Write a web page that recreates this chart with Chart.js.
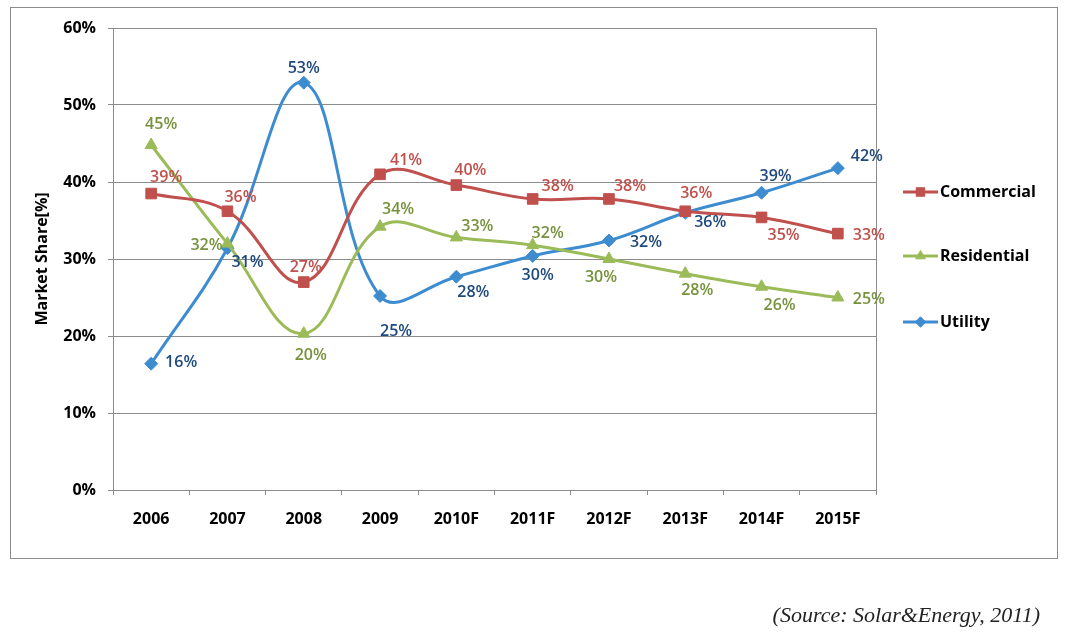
<!DOCTYPE html>
<html>
<head>
<meta charset="utf-8">
<script src="https://cdn.jsdelivr.net/npm/chart.js@4.4.0/dist/chart.umd.min.js"></script>
<style>
  html, body { margin: 0; padding: 0; background: #ffffff; }
  #wrap { position: relative; width: 1066px; height: 636px; overflow: hidden; background: #fff; }
  #frame { position: absolute; left: 10px; top: 7px; width: 1046px; height: 550px; border: 1px solid #8c8c8c; }
  #c { position: absolute; left: 0; top: 0; }
  #source { position: absolute; right: 26px; top: 602px; font-family: "Liberation Serif", "DejaVu Serif", serif; font-style: italic; font-size: 22px; color: #222; white-space: nowrap; }
</style>
</head>
<body>
<div id="wrap">
  <div id="frame"></div>
  <canvas id="c" width="1066" height="636"></canvas>
  <div id="source">(Source: Solar&amp;Energy, 2011)</div>
</div>
<script>
// ---- data ----
const categories = ['2006', '2007', '2008', '2009', '2010F', '2011F', '2012F', '2013F', '2014F', '2015F'];
const commercial = [38.5, 36.2, 27.0, 41.0, 39.6, 37.8, 37.8, 36.2, 35.4, 33.3];
const residential = [44.8, 32.0, 20.3, 34.2, 32.8, 31.8, 30.0, 28.1, 26.4, 25.0];
const utility = [16.4, 31.4, 52.9, 25.2, 27.7, 30.4, 32.4, 36.0, 38.6, 41.8];
const yTicks = [0, 10, 20, 30, 40, 50, 60];
const seriesNames = ['Commercial', 'Residential', 'Utility'];

// label offsets (dx, dy) relative to each point
const commercialLabelOff = [[15,-16],[13,-14],[2,-15],[26,-14],[14,-15],[25,-13],[21,-13],[11,-18],[22,18],[31,2]];
const residentialLabelOff = [[10,-21],[-21,2],[7,22],[18,-17],[21,-11],[15,-12],[-8,18],[12,17],[18,19],[31,2]];
const utilityLabelOff = [[30,-1],[20,14],[0,-14],[16,35],[17,16],[5,20],[37,2],[25,10],[14,-16],[29,-12]];

const FONT = '"Open Sans", Lato, "DejaVu Sans", sans-serif';
const colors = {
  commercial: '#C0504D', residential: '#9BBB59', utility: '#3E8CD0'
};
const labelColors = ['#C0504D', '#76923C', '#1F497D'];

const dataLabelPlugin = {
  id: 'dataLabels',
  afterDatasetsDraw(chart) {
    const ctx = chart.ctx;
    const offs = [commercialLabelOff, residentialLabelOff, utilityLabelOff];
    ctx.save();
    ctx.font = '600 16px ' + FONT;
    ctx.textAlign = 'center';
    ctx.textBaseline = 'middle';
    chart.data.datasets.forEach((ds, di) => {
      const meta = chart.getDatasetMeta(di);
      ctx.fillStyle = labelColors[di];
      meta.data.forEach((pt, i) => {
        const o = offs[di][i];
        ctx.fillText(Math.round(ds.data[i]) + '%', pt.x + o[0], pt.y + o[1]);
      });
    });
    ctx.restore();
  }
};

const frameLegendPlugin = {
  id: 'frameLegend',
  beforeDatasetsDraw(chart) {
    const {ctx, chartArea: a} = chart;
    ctx.save();
    ctx.strokeStyle = '#8c8c8c';
    ctx.lineWidth = 1;
    ctx.strokeRect(Math.round(a.left) + 0.5, Math.round(a.top) + 0.5, Math.round(a.right - a.left), Math.round(a.bottom - a.top));
    ctx.restore();
  },
  afterDraw(chart) {
    const ctx = chart.ctx;
    const a = chart.chartArea;
    const ys = [192, 256, 322];
    ctx.save();
    chart.data.datasets.forEach((ds, i) => {
      const y = ys[i];
      const x0 = a.right + 27, x1 = x0 + 35, xm = (x0 + x1) / 2;
      ctx.strokeStyle = ds.borderColor;
      ctx.lineWidth = 3;
      ctx.beginPath(); ctx.moveTo(x0, y); ctx.lineTo(x1, y); ctx.stroke();
      ctx.fillStyle = ds.backgroundColor;
      ctx.strokeStyle = ds.borderColor;
      ctx.lineWidth = 1;
      Chart.helpers.drawPoint(ctx, {pointStyle: ds.pointStyle, radius: ds.pointRadius * 0.8, borderWidth: 1, rotation: 0}, xm, y);
      ctx.fillStyle = '#000';
      ctx.font = 'bold 16px ' + FONT;
      ctx.textAlign = 'left';
      ctx.textBaseline = 'middle';
      ctx.fillText(seriesNames[i], x1 + 2, y);
    });
    ctx.restore();
  }
};

new Chart(document.getElementById('c'), {
  type: 'line',
  data: {
    labels: categories,
    datasets: [
      { label: seriesNames[0], data: commercial, borderColor: colors.commercial, backgroundColor: colors.commercial,
        pointStyle: 'rect', pointRadius: 7.5, pointBorderWidth: 1, borderWidth: 3, tension: 0.4 },
      { label: seriesNames[1], data: residential, borderColor: colors.residential, backgroundColor: colors.residential,
        pointStyle: 'triangle', pointRadius: 7, pointBorderWidth: 1, borderWidth: 3, tension: 0.4 },
      { label: seriesNames[2], data: utility, borderColor: colors.utility, backgroundColor: colors.utility,
        pointStyle: 'rectRot', pointRadius: 6.5, pointBorderWidth: 1, borderWidth: 3, tension: 0.4 }
    ]
  },
  options: {
    responsive: false,
    animation: false,
    devicePixelRatio: 1,
    layout: { padding: { left: 0, top: 28, right: 190, bottom: 96 } },
    plugins: { legend: { display: false }, tooltip: { enabled: false } },
    scales: {
      x: {
        offset: true,
        grid: { offset: true, drawOnChartArea: false, drawTicks: true, tickLength: 5, color: '#8c8c8c' },
        border: { color: '#8c8c8c' },
        ticks: { color: '#000', font: { family: FONT, size: 16, weight: 'bold' }, padding: 15, maxRotation: 0 },
        afterFit(s) { s.height = 50; }
      },
      y: {
        min: 0, max: 60,
        afterBuildTicks(s) { s.ticks = yTicks.map(v => ({ value: v })); },
        ticks: { color: '#000', font: { family: FONT, size: 16, weight: 'bold' }, padding: 12, callback: v => v + '%' },
        grid: { color: '#8c8c8c', tickLength: 5 },
        border: { color: '#8c8c8c' },
        title: { display: true, text: 'Market Share[%]', color: '#000', font: { family: FONT, size: 16, weight: 'bold' }, padding: { top: 33, bottom: 0 } },
        afterFit(s) { s.width = 113; }
      }
    }
  },
  plugins: [frameLegendPlugin, dataLabelPlugin]
});
</script>
</body>
</html>
